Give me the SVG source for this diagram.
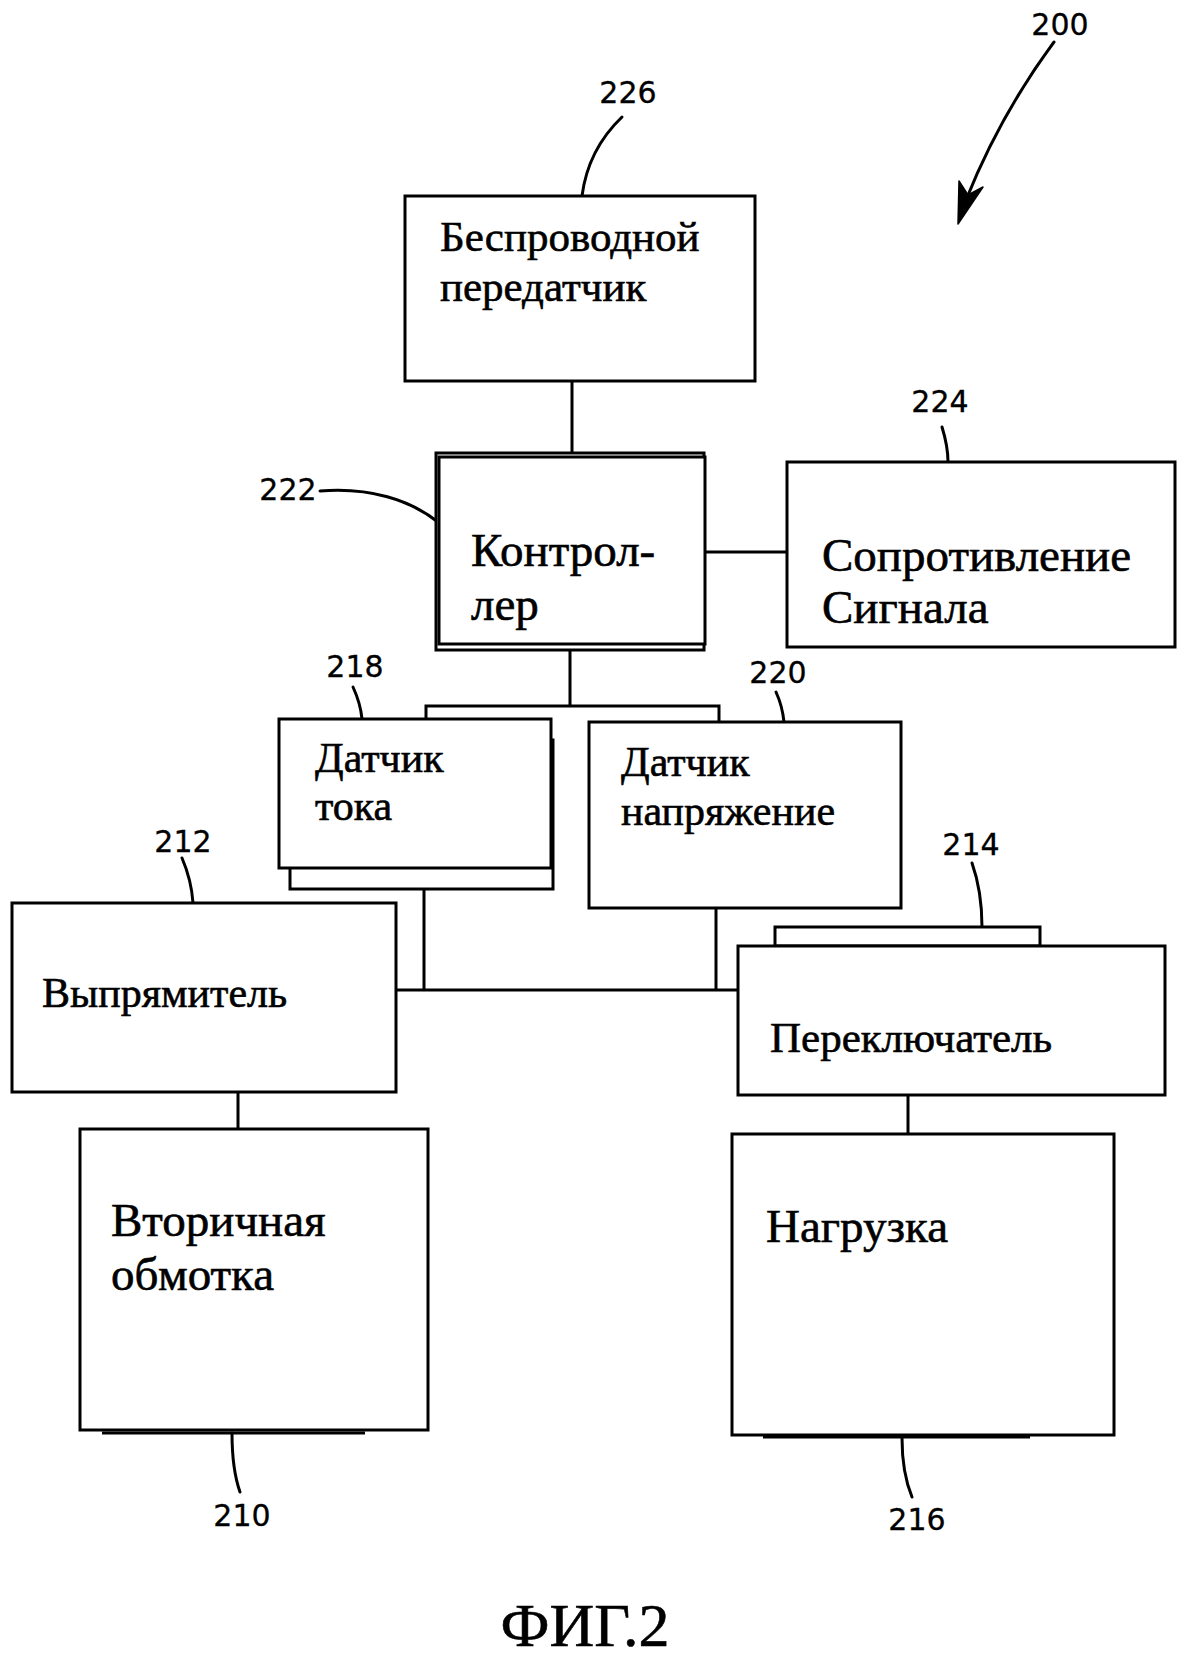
<svg xmlns="http://www.w3.org/2000/svg" width="1185" height="1661" viewBox="0 0 1185 1661">
<style>
.box{fill:#fff;stroke:#000;stroke-width:3}
.ln{fill:none;stroke:#000;stroke-width:3}
.ld{fill:none;stroke:#000;stroke-width:3;stroke-linecap:round}
.t{font-family:"Liberation Serif","Times New Roman",serif;fill:#000;stroke:#000;stroke-width:0.6}
.s{font-size:42px}
.b{font-size:47px}
.num{font-family:"DejaVu Sans","Verdana",sans-serif;font-size:30px;fill:#000;text-anchor:middle;stroke:#000;stroke-width:0.3}
</style>
<rect width="1185" height="1661" fill="#fff"/>
<g id="connectors">
<path class="ln" d="M572,381 V456"/>
<path class="ln" d="M705,552 H787"/>
<path class="ln" d="M570,648 V706"/>
<path class="ln" d="M426,720 V706 H719 V723"/>
<path class="ln" d="M424,889 V990"/>
<path class="ln" d="M716,908 V990"/>
<path class="ln" d="M396,990 H738"/>
<path class="ln" d="M238,1092 V1129"/>
<path class="ln" d="M908,1095 V1134"/>
</g>
<g id="leaders">
<path class="ld" d="M1054,42 Q1000,115 966,200"/>
<polygon points="958,224 959,181 968,195 983,187" fill="#000" stroke="#000" stroke-width="1.5" stroke-linejoin="round"/>
<path class="ld" d="M622,117 C598,140 586,165 582,196"/>
<path class="ld" d="M320,491 C370,487 410,500 438,522"/>
<path class="ld" d="M942,427 C946,440 948,450 948,462"/>
<path class="ld" d="M353,687 C358,698 361,708 362,719"/>
<path class="ld" d="M776,692 C781,703 783,712 784,722"/>
<path class="ld" d="M182,858 C188,872 192,888 193,903"/>
<path class="ld" d="M972,863 C978,880 982,900 982,927"/>
<path class="ld" d="M232,1433 C232,1455 234,1475 240,1492"/>
<path class="ld" d="M902,1438 C902,1460 905,1480 912,1497"/>
</g>
<g id="label-200"><text class="num" x="1060" y="35">200</text></g>
<g id="node-226">
<rect class="box" x="405" y="196" width="350" height="185"/>
<text class="t" font-size="43" x="440" y="251">Беспроводной</text>
<text class="t" font-size="43" x="440" y="301">передатчик</text>
<text class="num" x="628" y="103">226</text>
</g>
<g id="node-222">
<rect class="box" x="436" y="453" width="268" height="197"/>
<rect class="box" x="439" y="457" width="266" height="187"/>
<text class="t b" x="471" y="566">Контрол-</text>
<text class="t b" x="471" y="620">лер</text>
<text class="num" x="288" y="500">222</text>
</g>
<g id="node-224">
<rect class="box" x="787" y="462" width="388" height="185"/>
<text class="t b" x="822" y="571">Сопротивление</text>
<text class="t b" x="822" y="623">Сигнала</text>
<text class="num" x="940" y="412">224</text>
</g>
<g id="node-218">
<rect class="box" x="290" y="740" width="263" height="149"/>
<rect class="box" x="279" y="719" width="272" height="149"/>
<text class="t s" x="315" y="772">Датчик</text>
<text class="t s" x="315" y="820">тока</text>
<text class="num" x="355" y="677">218</text>
</g>
<g id="node-220">
<rect class="box" x="589" y="722" width="312" height="186"/>
<text class="t s" x="621" y="776">Датчик</text>
<text class="t s" x="621" y="825">напряжение</text>
<text class="num" x="778" y="683">220</text>
</g>
<g id="node-212">
<rect class="box" x="12" y="903" width="384" height="189"/>
<text class="t s" x="42" y="1007">Выпрямитель</text>
<text class="num" x="183" y="852">212</text>
</g>
<g id="node-214">
<rect class="box" x="775" y="927" width="265" height="19"/>
<rect class="box" x="738" y="946" width="427" height="149"/>
<text class="t" font-size="43" x="770" y="1052">Переключатель</text>
<text class="num" x="971" y="855">214</text>
</g>
<g id="node-210">
<rect class="box" x="80" y="1129" width="348" height="301"/>
<path class="ln" d="M102,1433 H365"/>
<text class="t b" x="111" y="1236">Вторичная</text>
<text class="t b" x="111" y="1290">обмотка</text>
<text class="num" x="242" y="1526">210</text>
</g>
<g id="node-216">
<rect class="box" x="732" y="1134" width="382" height="301"/>
<path class="ln" d="M763,1437 H1030"/>
<text class="t b" x="766" y="1242">Нагрузка</text>
<text class="num" x="917" y="1530">216</text>
</g>
<g id="caption"><text class="t" x="585" y="1646" font-size="62" text-anchor="middle">ФИГ.2</text></g>
</svg>
